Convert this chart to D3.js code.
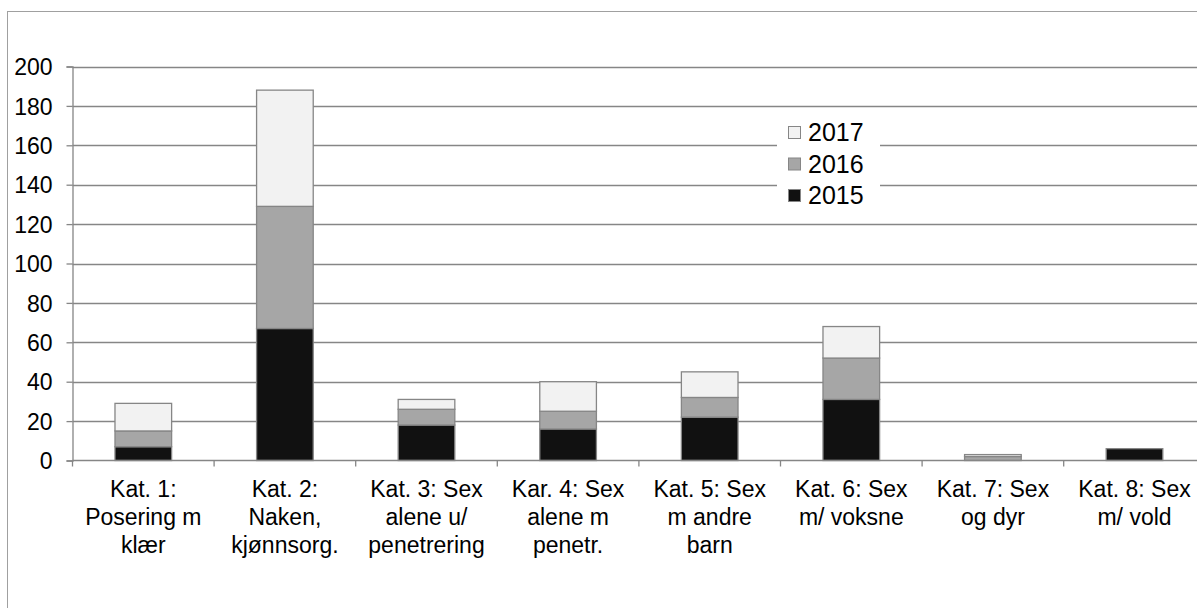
<!DOCTYPE html>
<meta charset="utf-8">
<title>Kategorier 2015-2017</title>
<style>
  body { margin: 0; background: #fff; }
  text { font-family: "Liberation Sans", Arial, sans-serif; fill: #000; }
</style>
<body>
<div id="chart"></div>
<script src="https://d3js.org/d3.v7.min.js"></script>
<script>

// kategorier (linjeskift som i originalet)
var categories = [
  ["Kat. 1:", "Posering m", "klær"],
  ["Kat. 2:", "Naken,", "kjønnsorg."],
  ["Kat. 3: Sex", "alene u/", "penetrering"],
  ["Kar. 4: Sex", "alene m", "penetr."],
  ["Kat. 5: Sex", "m andre", "barn"],
  ["Kat. 6: Sex", "m/ voksne"],
  ["Kat. 7: Sex", "og dyr"],
  ["Kat. 8: Sex", "m/ vold"]
];
var years = ["2015", "2016", "2017"];
var v2015 = [7, 67, 18, 16, 22, 31, 0, 6];
var v2016 = [8, 62, 8, 9, 10, 21, 2, 0];
var v2017 = [14, 59, 5, 15, 13, 16, 1, 0];
var yTicks = [0, 20, 40, 60, 80, 100, 120, 140, 160, 180, 200];

var colors = { "2015": "#111111", "2016": "#a6a6a6", "2017": "#f2f2f2" };

var W = 1197, H = 608;
var plotLeft = 72.5, plotTop = 66.5, plotH = 394, band = 141.6;

var svg = d3.select("#chart").append("svg")
    .attr("width", W)
    .attr("height", H);

// ramme rundt diagrammet (beskåret i høyre/nedre kant)
svg.append("rect")
    .attr("x", 7.5).attr("y", 11.5)
    .attr("width", 1300).attr("height", 700)
    .attr("fill", "none")
    .attr("stroke", "#a0a0a0");

var keys = categories.map(function(d, i) { return i; });

var x = d3.scaleBand()
    .domain(keys)
    .range([plotLeft, plotLeft + band * keys.length])
    .paddingInner(0.6).paddingOuter(0.3);

var y = d3.scaleLinear()
    .domain([0, 200])
    .range([plotTop + plotH, plotTop]);

// rutenett
svg.append("g")
    .selectAll("line")
    .data(yTicks.filter(function(t) { return t > 0; }))
    .enter().append("line")
      .attr("x1", plotLeft).attr("x2", W)
      .attr("y1", function(d) { return Math.round(y(d)) + 0.5; })
      .attr("y2", function(d) { return Math.round(y(d)) + 0.5; })
      .attr("stroke", "#868686")
      .attr("stroke-width", 1.3);

// y-akse
var yAxis = svg.append("g")
    .attr("transform", "translate(" + plotLeft + ",0)")
    .call(d3.axisLeft(y).tickValues(yTicks).tickSize(6).tickPadding(14));
yAxis.attr("font-family", null).attr("font-size", null);
yAxis.selectAll("path, line").attr("stroke", "#868686").attr("stroke-width", 1.3);
yAxis.selectAll("text")
    .style("font-size", "23px")
    .attr("dy", "0.36em");

// stablede data
var table = keys.map(function(i) {
  return { key: i, "2015": v2015[i], "2016": v2016[i], "2017": v2017[i] };
});
var series = d3.stack().keys(years)(table);

svg.append("g")
    .selectAll("g")
    .data(series)
    .enter().append("g")
      .attr("fill", function(d) { return colors[d.key]; })
    .selectAll("rect")
    .data(function(d) { return d.filter(function(p) { return p[1] > p[0]; }); })
    .enter().append("rect")
      .attr("x", function(d) { return x(d.data.key); })
      .attr("y", function(d) { return y(d[1]); })
      .attr("width", x.bandwidth())
      .attr("height", function(d) { return y(d[0]) - y(d[1]); })
      .attr("stroke", "#868686")
      .attr("stroke-width", 1.3);

// x-akse
var xAxis = svg.append("g")
    .attr("transform", "translate(0," + y(0) + ")");
xAxis.append("line")
    .attr("x1", plotLeft).attr("x2", W)
    .attr("stroke", "#868686").attr("stroke-width", 1.3);
xAxis.selectAll("line.tick")
    .data(d3.range(keys.length + 1))
    .enter().append("line")
      .attr("class", "tick")
      .attr("x1", function(i) { return plotLeft + band * i; })
      .attr("x2", function(i) { return plotLeft + band * i; })
      .attr("y1", 0).attr("y2", 6)
      .attr("stroke", "#868686").attr("stroke-width", 1.3);

xAxis.selectAll("text.cat")
    .data(categories)
    .enter().append("text")
      .attr("class", "cat")
      .attr("text-anchor", "middle")
      .style("font-size", "23px")
      .attr("transform", function(d, i) {
        return "translate(" + (x(i) + x.bandwidth() / 2) + ",36)";
      })
    .selectAll("tspan")
    .data(function(d) { return d; })
    .enter().append("tspan")
      .attr("x", 0)
      .attr("y", function(d, j) { return j * 28; })
      .text(function(d) { return d; });

// legende (2017 øverst)
var legend = svg.append("g").attr("transform", "translate(777,112)");
legend.append("rect")
    .attr("width", 103).attr("height", 100)
    .attr("fill", "#fff");
var items = legend.selectAll("g.item")
    .data(years.slice().reverse())
    .enter().append("g")
      .attr("class", "item")
      .attr("transform", function(d, i) { return "translate(0," + (i * 31.5) + ")"; });
items.append("rect")
    .attr("x", 11.5).attr("y", 14.5)
    .attr("width", 12).attr("height", 12)
    .attr("fill", function(d) { return colors[d]; })
    .attr("stroke", "#868686");
items.append("text")
    .attr("x", 31).attr("y", 29)
    .style("font-size", "25px")
    .text(function(d) { return d; });

</script>
</body>
